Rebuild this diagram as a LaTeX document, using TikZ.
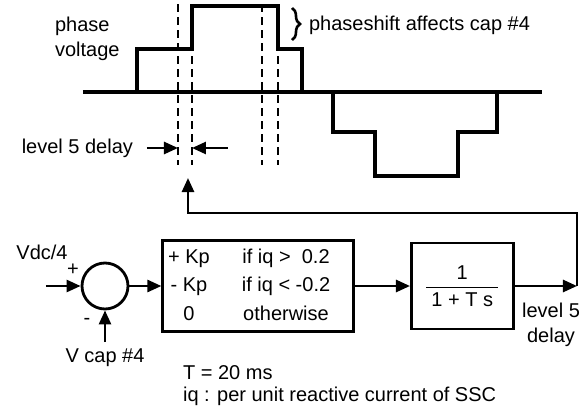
\documentclass[tikz,border=0pt]{standalone}
\usepackage{fontspec}
\setmainfont{Liberation Sans}
\usepackage{amsmath}
\usetikzlibrary{positioning,arrows.meta,decorations.pathreplacing}

\begin{document}
\begin{tikzpicture}[
    x=0.5pt, y=-0.5pt,
    font=\fontsize{10}{12.5}\selectfont,
    box/.style={rectangle, draw, line width=1.3pt, inner sep=1.5pt, align=center},
    sumnode/.style={circle, draw, line width=1.4pt, minimum size=23pt, inner sep=0pt},
    arrow/.style={-{Triangle[length=7pt,width=6pt]}, line width=1.3pt},
    wave/.style={line width=1.6pt},
    guide/.style={line width=1.2pt, dash pattern=on 4pt off 2.5pt}
]
    \useasboundingbox (0,0) rectangle (586,408);

    % phase voltage waveform
    \draw[wave] (83,92) -- (542,92);
    \draw[wave] (137,92) -- (137,49) -- (192,49) -- (192,6) -- (278,6)
        -- (278,49) -- (302,49) -- (302,92);
    \draw[wave] (333,92) -- (333,132) -- (375,132) -- (375,176) -- (458,176)
        -- (458,132) -- (497,132) -- (497,92);
    \foreach \x in {178,192,262,278}
        \draw[guide] (\x,4) -- (\x,165);

    \node[anchor=west, align=left] (phase) at (48,39) {phase\\voltage};
    \draw[decorate, decoration={brace, amplitude=4pt}, line width=1.3pt] (292,8) -- (292,40);
    \node[anchor=west] (shift) at (302,25) {phaseshift affects cap \#4};

    % delay marks
    \node[anchor=east] (dlabel) at (140,148) {level 5 delay};
    \coordinate (dleft) at (178,148);
    \coordinate (dright) at (192,148);
    \coordinate (dtail) at (228,148);
    \draw[arrow, shorten <=3.5pt] (dlabel.east) -- (dleft);
    \draw[arrow] (dtail) -- (dright);

    % control loop
    \node[sumnode] (sum) at (105,286) {};
    \node[box, minimum width=95.5pt, minimum height=44.5pt, right=16pt of sum,
          font=\fontsize{10}{14.25}\selectfont] (sw) {%
        \begin{tabular}{@{}c@{\hspace{16pt}}c@{\hspace{9pt}}}
            + Kp & if iq >\ \ 0.2\\
            - Kp & if iq < -0.2\\
            0 & otherwise
        \end{tabular}};
    \node[box, minimum width=51pt, minimum height=43pt, right=27.5pt of sw] (lag)
        {$\dfrac{\text{1}}{\text{\hspace{2.5pt}1 + T s\hspace{2.5pt}}}$};

    \coordinate (vin) at (46,286);
    \coordinate (vcap) at (105,342);
    \coordinate (corner) at (577,286);
    \coordinate (fbtip) at (188,178);

    \draw[arrow] (vin) -- (sum);
    \draw[arrow] (vcap) -- (sum);
    \draw[arrow] (sum) -- (sw);
    \draw[arrow] (sw) -- (lag);
    \draw[arrow] (lag) -- (corner);
    \draw[arrow] (corner) -- ++(0,-73) -| (fbtip);

    \node (vdc) at (42,252) {Vdc/4};
    \node (plus) at (73,270) {+};
    \node (minus) at (87,321) {-};
    \node (vcaplabel) at (105,358) {V cap \#4};
    \node[align=center] (outlabel) at (551,325) {level 5\\delay};
    \node[anchor=west] (tconst) at (176,373) {T = 20 ms};
    \node[anchor=west] (iqdef) at (176,396) {iq : per unit reactive current of SSC};
\end{tikzpicture}
\end{document}
